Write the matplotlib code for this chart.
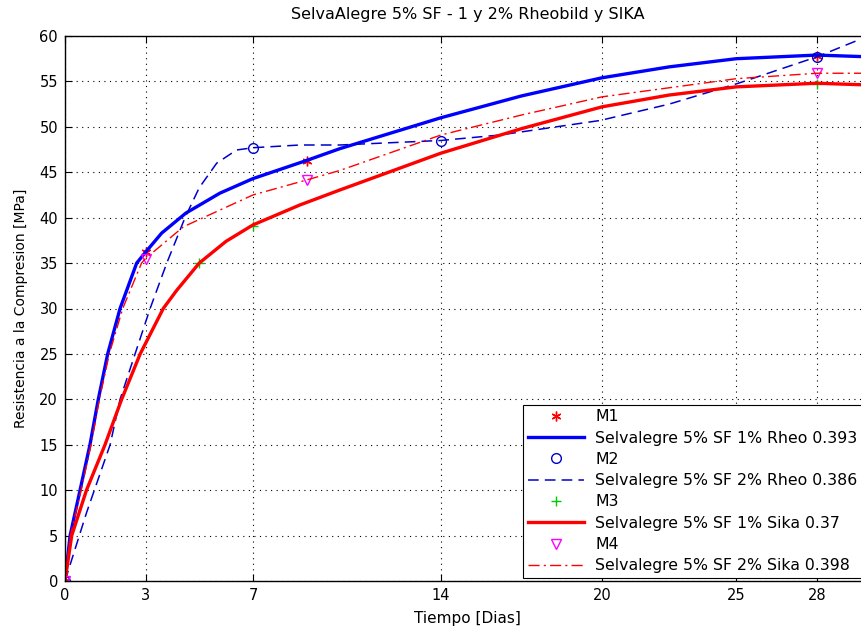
import matplotlib
matplotlib.use("Agg")
import matplotlib.pyplot as plt

plt.rcParams['font.family'] = ['DejaVu Sans']

# measured points (days, MPa)
m1_days = [0, 3, 9, 28]
m1_vals = [0, 36.2, 46.2, 57.8]
m2_days = [0, 7, 14, 28]
m2_vals = [0, 47.7, 48.4, 57.7]
m3_days = [0, 5, 7, 28]
m3_vals = [0, 35.0, 39.1, 54.7]
m4_days = [0, 3, 9, 28]
m4_vals = [0, 35.5, 44.2, 55.9]

# fitted curves
fit1_x = [0, 0.19, 0.56, 0.93, 1.24, 1.59, 2.05, 2.67, 3, 3.6, 4.5, 5.77, 7, 9, 10.24, 14, 17, 20, 22.5, 25, 28, 30]
fit1_y = [0, 5, 10, 15, 20, 25, 30, 35, 36.2, 38.3, 40.5, 42.7, 44.3, 46.3, 47.6, 51.0, 53.4, 55.4, 56.6, 57.5, 57.9, 57.7]
fit2_x = [0, 0.8, 1.68, 2.05, 2.61, 3.17, 3.79, 4.47, 5.0, 5.65, 6.39, 7, 8.75, 10.24, 14, 16.2, 19.93, 22.5, 25.08, 28, 30]
fit2_y = [0, 7.5, 15, 20, 25, 30, 35, 40, 43.3, 46.0, 47.45, 47.7, 48.0, 48.0, 48.5, 49.1, 50.7, 52.5, 54.8, 57.7, 60.1]
fit3_x = [0, 0.25, 0.8, 1.49, 2.11, 2.8, 3.66, 4.16, 5.0, 6.0, 7.0, 8.75, 10.24, 14, 17, 20, 22.5, 25, 28, 30]
fit3_y = [0, 5, 10, 15, 20, 25, 30, 32, 35, 37.4, 39.2, 41.4, 43.05, 47.1, 49.8, 52.2, 53.5, 54.4, 54.8, 54.6]
fit4_x = [0, 0.2, 0.6, 0.97, 1.28, 1.65, 2.15, 2.85, 3, 4.41, 7, 9, 10.24, 14, 17, 20, 25, 28, 30]
fit4_y = [0, 5, 10, 15, 20, 25, 30, 35, 35.5, 39.0, 42.5, 44.15, 45.2, 49.1, 51.3, 53.3, 55.3, 55.9, 55.9]

labels = ['M1', 'Selvalegre 5% SF 1% Rheo 0.393',
          'M2', 'Selvalegre 5% SF 2% Rheo 0.386',
          'M3', 'Selvalegre 5% SF 1% Sika 0.37',
          'M4', 'Selvalegre 5% SF 2% Sika 0.398']
xticks = [0, 3, 7, 14, 20, 25, 28]
yticks = list(range(0, 61, 5))

fig = plt.figure(figsize=(8.62, 6.28), dpi=100)
# axes run past the right edge of the picture, as in the original crop
ax = fig.add_axes([65 / 862, 47 / 628, 805.5 / 862, 545 / 628])

asterisk = (6, 2, 0)
h1, = ax.plot(m1_days, m1_vals, marker=asterisk, color='red', ms=7, mew=1, ls='none')
f1, = ax.plot(fit1_x, fit1_y, '-', color='#0000ff', lw=2.4)
h2, = ax.plot(m2_days, m2_vals, 'o', color='#0000cc', mfc='none', ms=7, mew=1, ls='none')
f2, = ax.plot(fit2_x, fit2_y, '--', color='#0000cc', lw=1.1, dashes=(7, 4))
h3, = ax.plot(m3_days, m3_vals, '+', color='#00cc00', ms=7, mew=1, ls='none')
f3, = ax.plot(fit3_x, fit3_y, '-', color='#ff0000', lw=2.4)
h4, = ax.plot(m4_days, m4_vals, 'v', color='#ff00ff', mfc='none', ms=7, mew=1, ls='none')
f4, = ax.plot(fit4_x, fit4_y, '-.', color='#ff0000', lw=1.0, dashes=(8, 3, 1.5, 3))

ax.set_xlim(0, 30)
ax.set_ylim(0, 60)
ax.set_xticks(xticks)
ax.set_yticks(yticks)
ax.tick_params(direction='in', length=5, labelsize=10.5, top=True, right=True, pad=5)
ax.grid(True, color='black', linestyle=(0, (1, 4)), linewidth=0.8)
for s in ax.spines.values():
    s.set_linewidth(1.0)

ax.set_title('SelvaAlegre 5% SF - 1 y 2% Rheobild y SIKA', fontsize=11.5, pad=12)
ax.set_xlabel('Tiempo [Dias]', fontsize=11, labelpad=6)
ax.set_ylabel('Resistencia a la Compresion [MPa]', fontsize=10, labelpad=8)

leg = ax.legend([h1, f1, h2, f2, h3, f3, h4, f4], labels,
                loc='lower left', bbox_to_anchor=(523 / 862, 50 / 628),
                bbox_transform=fig.transFigure, borderaxespad=0,
                fontsize=11.3, handlelength=3.6, handletextpad=0.7,
                labelspacing=0.4, borderpad=0.3, fancybox=False,
                framealpha=1, edgecolor='black')
leg.get_frame().set_linewidth(0.8)

fig.savefig('out.png', dpi=100)
